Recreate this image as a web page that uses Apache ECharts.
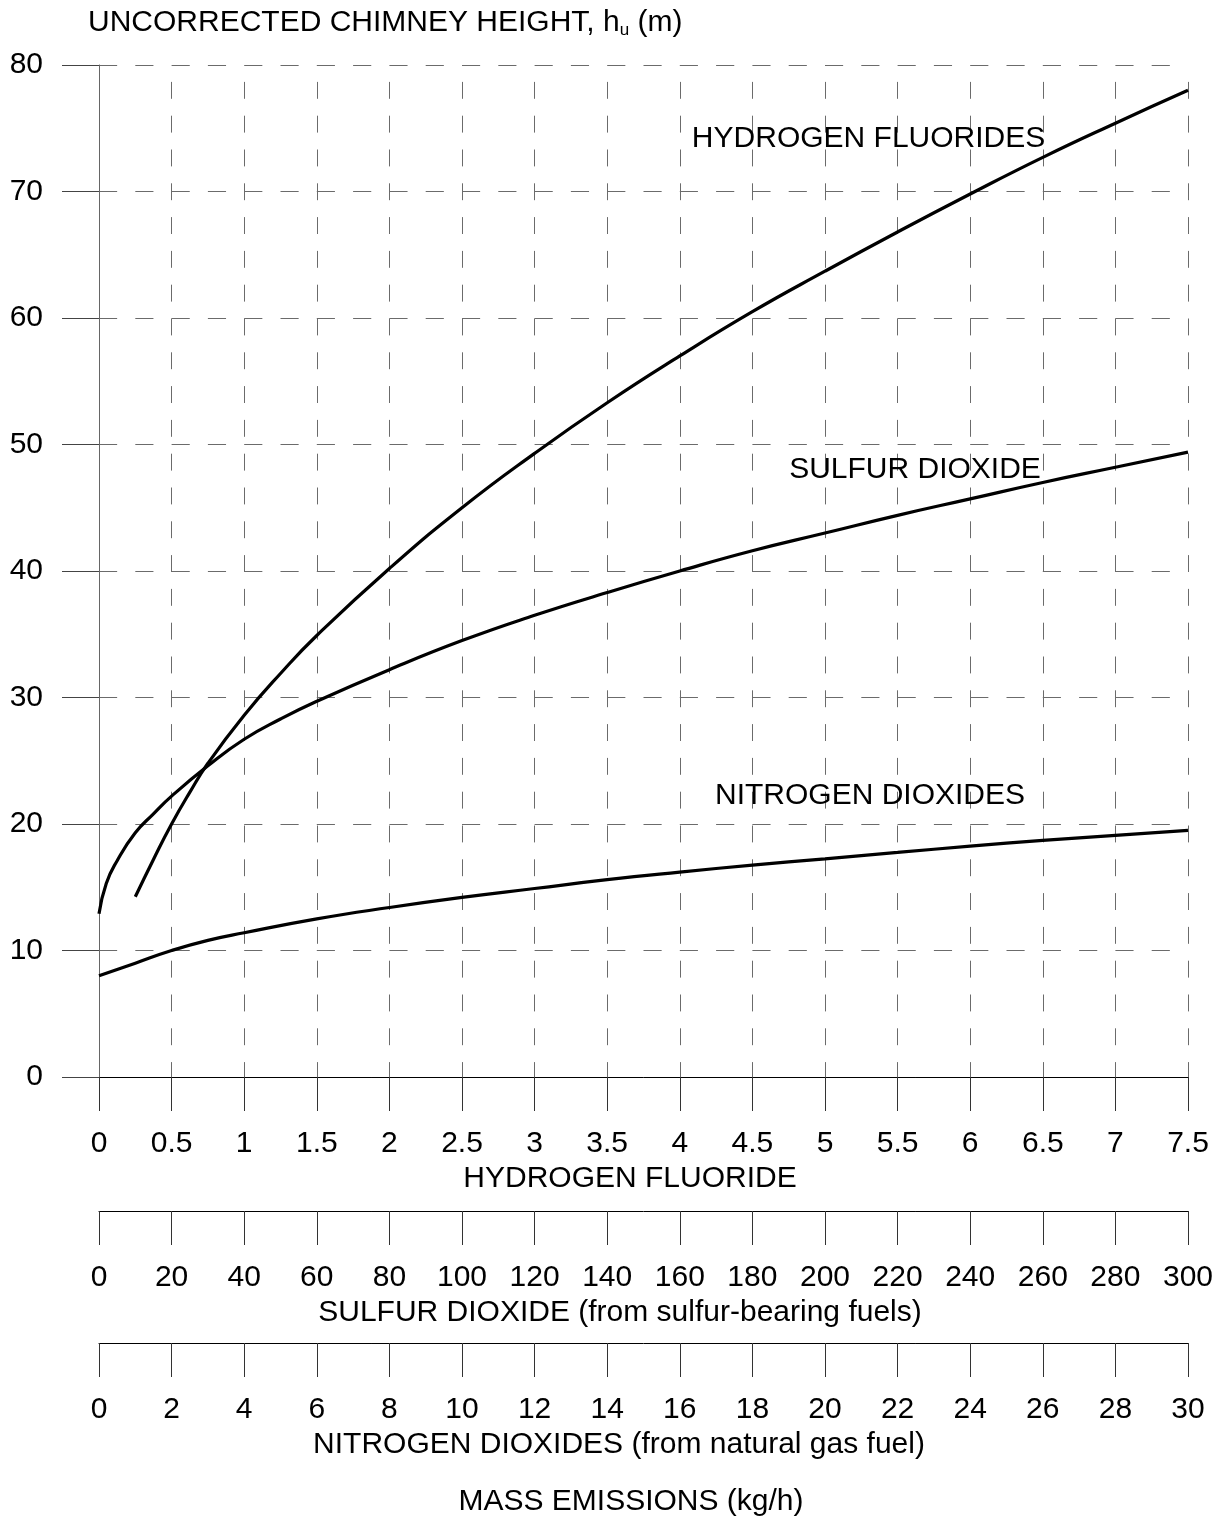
<!DOCTYPE html>
<html>
<head>
<meta charset="utf-8">
<title>Uncorrected chimney height</title>
<script src="https://cdn.jsdelivr.net/npm/echarts@6/dist/echarts.min.js"></script>
<style>
  html, body { margin: 0; padding: 0; background: #fff; }
  #chart { width: 1223px; height: 1519px; }
</style>
</head>
<body>
<div id="chart"></div>
<script>
const chart = echarts.init(document.getElementById('chart'));

// mass emission of hydrogen fluoride (kg/h) -> uncorrected height (m)
const hfX = [0.25, 0.375, 0.5, 0.625, 0.75, 1.0, 1.25, 1.5, 2.0, 2.5, 3.0, 3.5, 4.0, 4.5, 5.0, 5.5, 6.0, 6.5, 7.0, 7.5];
const hfY = [14.25, 17.2, 20.0, 22.5, 24.8, 28.6, 31.9, 34.9, 40.2, 45.0, 49.3, 53.3, 57.0, 60.5, 63.7, 66.8, 69.8, 72.7, 75.4, 78.0];

// sulfur dioxide curve, read against the hydrogen fluoride scale
const so2X = [0, 0.05, 0.125, 0.25, 0.375, 0.5, 0.75, 1.0, 1.25, 1.5, 2.0, 2.5, 3.0, 3.5, 4.0, 4.5, 5.0, 5.5, 6.0, 6.5, 7.0, 7.5];
const so2Y = [12.9, 15.3, 17.1, 19.3, 20.8, 22.2, 24.6, 26.7, 28.3, 29.7, 32.2, 34.5, 36.5, 38.3, 40.0, 41.6, 43.0, 44.4, 45.7, 47.0, 48.2, 49.4];

// nitrogen dioxides curve
const no2X = [0, 0.25, 0.5, 0.75, 1.0, 1.5, 2.0, 2.5, 3.0, 3.5, 4.0, 4.5, 5.0, 5.5, 6.0, 6.5, 7.0, 7.5];
const no2Y = [8.0, 9.0, 10.0, 10.8, 11.4, 12.5, 13.4, 14.2, 14.9, 15.6, 16.2, 16.75, 17.25, 17.75, 18.25, 18.7, 19.1, 19.5];

// curve captions: [x, y, text]
const captions = [
  [5.3, 74.15, 'HYDROGEN FLUORIDES'],
  [5.62, 48.0, 'SULFUR DIOXIDE'],
  [5.31, 22.2, 'NITROGEN DIOXIDES']
];

const FONT = 'Liberation Sans, Arial, sans-serif';
const FS = 30;
const GRID_COLOR = '#6b6b6b';

function pairs(xs, ys) {
  return xs.map((x, i) => [x, ys[i]]);
}

function curve(name, xs, ys, caption) {
  return {
    name: name,
    type: 'line',
    data: pairs(xs, ys),
    smooth: 0.5,
    showSymbol: false,
    symbol: 'none',
    lineStyle: { color: '#000', width: 3.2 },
    markPoint: {
      symbol: 'circle',
      symbolSize: 0,
      silent: true,
      label: {
        show: true,
        position: 'inside',
        formatter: '{b}',
        color: '#000',
        fontFamily: FONT,
        fontSize: FS
      },
      data: [{ name: caption[2], coord: [caption[0], caption[1]] }]
    }
  };
}

function bottomAxis(min, max, interval, offset, name, shiftLeft, split) {
  return {
    type: 'value',
    position: 'bottom',
    gridIndex: 0,
    min: min,
    max: max,
    interval: interval,
    offset: offset,
    name: name,
    nameLocation: 'middle',
    nameGap: 83,
    nameTextStyle: {
      color: '#000',
      fontFamily: FONT,
      fontSize: FS,
      padding: [0, shiftLeft, 0, 0]
    },
    axisLine: { show: true, onZero: false, lineStyle: { color: '#000', width: 1 } },
    axisTick: { show: true, inside: false, length: 34, lineStyle: { color: '#333', width: 1 } },
    axisLabel: {
      show: true,
      margin: 52,
      color: '#000',
      fontFamily: FONT,
      fontSize: FS,
      showMinLabel: true,
      showMaxLabel: true
    },
    splitLine: split ? {
      show: true,
      lineStyle: { color: GRID_COLOR, width: 1, type: [16.9, 16.9], dashOffset: 16.9 }
    } : { show: false }
  };
}

const option = {
  animation: false,
  backgroundColor: '#fff',
  title: [
    {
      text: 'UNCORRECTED CHIMNEY HEIGHT, h{sub|u} (m)',
      left: 88,
      top: 7,
      padding: 0,
      textStyle: {
        color: '#000',
        fontFamily: FONT,
        fontSize: FS,
        fontWeight: 'normal',
        rich: {
          sub: { fontFamily: FONT, fontSize: 17, color: '#000', padding: [15, 0, 0, 0] }
        }
      }
    },
    {
      text: 'MASS EMISSIONS (kg/h)',
      left: 631,
      top: 1487,
      textAlign: 'center',
      padding: 0,
      textStyle: { color: '#000', fontFamily: FONT, fontSize: FS, fontWeight: 'normal' }
    }
  ],
  grid: {
    left: 99,
    right: 35,
    top: 65,
    bottom: 442,
    containLabel: false,
    outerBoundsMode: 'none'
  },
  xAxis: [
    bottomAxis(0, 7.5, 0.5, 0, 'HYDROGEN FLUORIDE', 27, true),
    bottomAxis(0, 300, 20, 134, 'SULFUR DIOXIDE (from sulfur-bearing fuels)', 47, false),
    bottomAxis(0, 30, 2, 266, 'NITROGEN DIOXIDES (from natural gas fuel)', 49, false)
  ],
  yAxis: {
    type: 'value',
    min: 0,
    max: 80,
    interval: 10,
    axisLine: { show: true, onZero: false, lineStyle: { color: '#666', width: 1 } },
    axisTick: { show: true, inside: false, length: 37, lineStyle: { color: '#444', width: 1 } },
    axisLabel: {
      margin: 56,
      color: '#000',
      fontFamily: FONT,
      fontSize: FS
    },
    splitLine: {
      show: true,
      lineStyle: { color: GRID_COLOR, width: 1, type: [18.15, 18.15] }
    }
  },
  series: [
    curve('Hydrogen fluorides', hfX, hfY, captions[0]),
    curve('Sulfur dioxide', so2X, so2Y, captions[1]),
    curve('Nitrogen dioxides', no2X, no2Y, captions[2])
  ]
};

chart.setOption(option);

window.addEventListener('resize', () => {
  chart.resize();
});
</script>
</body>
</html>
